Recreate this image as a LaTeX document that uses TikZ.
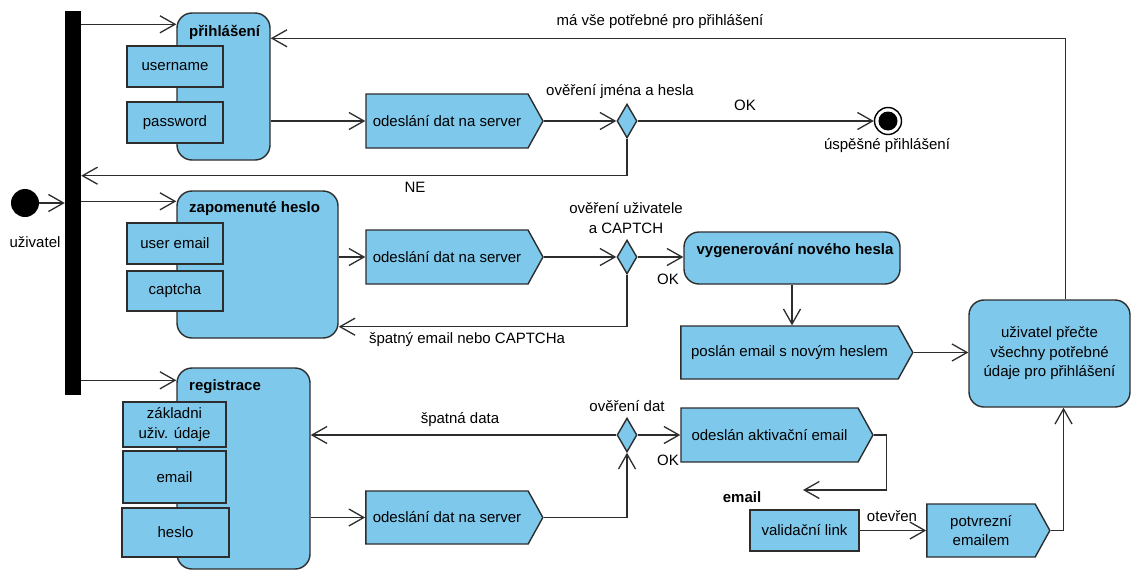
\documentclass[tikz,border=0pt]{standalone}
\usepackage{fontspec}
\setmainfont{Liberation Sans}
\usetikzlibrary{arrows.meta,shapes.geometric,shapes.symbols,calc}
\definecolor{actfill}{RGB}{126,200,235}
\definecolor{ink}{RGB}{45,45,45}
\begin{document}
\begin{tikzpicture}[x=1pt,y=-1pt,
  font=\fontsize{15}{19.5}\selectfont,
  act/.style={draw=ink, fill=actfill, rounded corners=15pt, line width=1.4pt, inner sep=0pt},
  pin/.style={draw=ink, fill=actfill, line width=1.4pt, inner sep=0pt, align=center},
  sendbox/.style={signal, signal to=east, signal from=nowhere, signal pointer angle=122,
     draw=ink, fill=actfill, line width=1.4pt, inner sep=0pt, align=center},
  diam/.style={diamond, draw=ink, fill=actfill, line width=1.4pt, minimum width=20pt,
     minimum height=34pt, inner sep=0pt},
  arr/.style={draw=ink, line width=1.3pt, -{Straight Barb[length=15pt,width=17pt,line width=1.3pt]}},
  title/.style={inner sep=0pt, font=\fontsize{15}{19.5}\selectfont\bfseries},
  lab/.style={inner sep=0pt, align=center}]
\useasboundingbox (0,0) rectangle (1131,571);

% activities
\node[act, minimum width=93pt, minimum height=147pt] (login) at (223.5,86.5) {};
\node[title, anchor=west] (loginT) at (189,32) {přihlášení};
\node[act, minimum width=161pt, minimum height=147pt] (zap) at (257.5,264.5) {};
\node[title, anchor=west] (zapT) at (189,209) {zapomenuté heslo};
\node[act, minimum width=133pt, minimum height=201pt] (reg) at (243.5,468.5) {};
\node[title, anchor=west] (regT) at (189,387) {registrace};
\node[act, minimum width=216pt, minimum height=52pt] (vyg) at (792,258) {};
\node[title] (vygT) at (795,251) {vygenerování nového hesla};
\node[act, minimum width=161pt, minimum height=107pt, align=center] (read) at (1049.5,353.5)
  {uživatel přečte\\všechny potřebné\\údaje pro přihlášení};

% pins
\node[pin, minimum width=96pt, minimum height=41pt] (user) at (175,66.5) {username};
\node[pin, minimum width=96pt, minimum height=41pt] (pass) at (175,122.5) {password};
\node[pin, minimum width=96pt, minimum height=41pt] (uemail) at (175,243.5) {user email};
\node[pin, minimum width=96pt, minimum height=40pt] (capt) at (175,291) {captcha};
\node[pin, minimum width=103pt, minimum height=45pt] (zakl) at (174.5,424.5) {základni\\uživ. údaje};
\node[pin, minimum width=103pt, minimum height=52pt] (mail) at (174.5,477) {email};
\node[pin, minimum width=107pt, minimum height=49pt] (hes) at (175.5,532.5) {heslo};
\node[pin, minimum width=109pt, minimum height=41pt] (valid) at (804.5,530.5) {validační link};

% send signals (center = centre of the body, pointer extends to the right)
\node[sendbox, minimum width=177pt, minimum height=54pt] (s1) at (447,121) {odeslání dat na server};
\node[sendbox, minimum width=177pt, minimum height=54pt] (s2) at (447,257) {odeslání dat na server};
\node[sendbox, minimum width=177pt, minimum height=53pt] (s3) at (447,517.5) {odeslání dat na server};
\node[sendbox, minimum width=232pt, minimum height=53pt] (poslan) at (789.5,352.5) {poslán email s novým heslem};
\node[sendbox, minimum width=192pt, minimum height=54pt] (aktiv) at (769.5,435) {odeslán aktivační email};
\node[sendbox, minimum width=123pt, minimum height=53pt] (potvr) at (981,530.5) {potvrezní\\emailem};

% decisions
\node[diam] (d1) at (627,121) {};
\node[diam] (d2) at (627,257) {};
\node[diam] (d3) at (627,435) {};

% control nodes
\node[fill=black, minimum width=16pt, minimum height=384pt, inner sep=0pt] (fork) at (73,203) {};
\node[circle, fill=black, minimum size=28pt, inner sep=0pt] (init) at (25,203) {};
\node[circle, draw=black, line width=1.4pt, fill=white, minimum size=27pt, inner sep=0pt,
  path picture={\fill[black] (path picture bounding box.center) circle (9.5pt);}] (fin) at (888,121) {};

% labels
\node[lab] (initL) at (35,242) {uživatel};
\node[lab] (finL) at (887,146) {úspěšné přihlášení};
\node[lab] (d1L) at (620,92) {ověření jména a hesla};
\node[lab] (d2L) at (626,218) {ověření uživatele\\a CAPTCH};
\node[lab] (d3L) at (627,406) {ověření dat};
\node[lab] (okA) at (745,105) {OK};
\node[lab] (neL) at (415,187) {NE};
\node[lab] (topL) at (660,22) {má vše potřebné pro přihlášení};
\node[lab] (okB) at (668,279) {OK};
\node[lab] (badL) at (467,340) {špatný email nebo CAPTCHa};
\node[lab] (badD) at (460,420) {špatná data};
\node[lab] (okC) at (668,460) {OK};
\node[lab] (otL) at (892,516) {otevřen};
\node[lab, font=\fontsize{15}{19.5}\selectfont\bfseries] (emailL) at (742,497) {email};

% helper coordinates
\coordinate (inLogin) at ($(login.north west)+(0,12)$);
\coordinate (inZap) at ($(zap.north west)+(0,11)$);
\coordinate (inReg) at ($(reg.north west)+(0,13)$);
\coordinate (mailIn) at (803,490);

% connectors
\draw[arr] (init) -- (init -| fork.west);
\draw[arr] (fork.east |- inLogin) -- (inLogin);
\draw[arr] (fork.east |- inZap) -- (inZap);
\draw[arr] (fork.east |- inReg) -- (inReg);

\draw[arr] (login.east |- s1) -- (s1.west);
\draw[arr] (s1.east) -- (d1.west);
\draw[arr] (d1.east) -- (fin.west);
\draw[arr] (d1.south) -- ++(0,37) coordinate (neC) -- (neC -| fork.east);
\draw[arr] ($(read.north)+(16,0)$) |- ($(login.north east)+(0,26)$);

\draw[arr] (zap.east |- s2) -- (s2.west);
\draw[arr] (s2.east) -- (d2.west);
\draw[arr] (d2.east) -- (vyg.west |- d2.east);
\draw[arr] (d2.south) -- ++(0,52) coordinate (badC) -- (badC -| zap.east);
\draw[arr] (vyg.south) -- (vyg.south |- poslan.north);
\draw[arr] (poslan.east) -- (read.west |- poslan.east);

\draw[arr] (reg.east |- s3) -- (s3.west);
\draw[arr] (s3.east) -| (d3.south);
\draw[arr] (d3.west) -- (reg.east |- d3.west);
\draw[arr] (d3.east) -- (aktiv.west);
\draw[arr] (aktiv.east) -- ++(13,0) |- (mailIn);
\draw[arr] (valid.east) -- (potvr.west);
\draw[arr] (potvr.east) -| ($(read.south)+(14,0)$);
\end{tikzpicture}
\end{document}
